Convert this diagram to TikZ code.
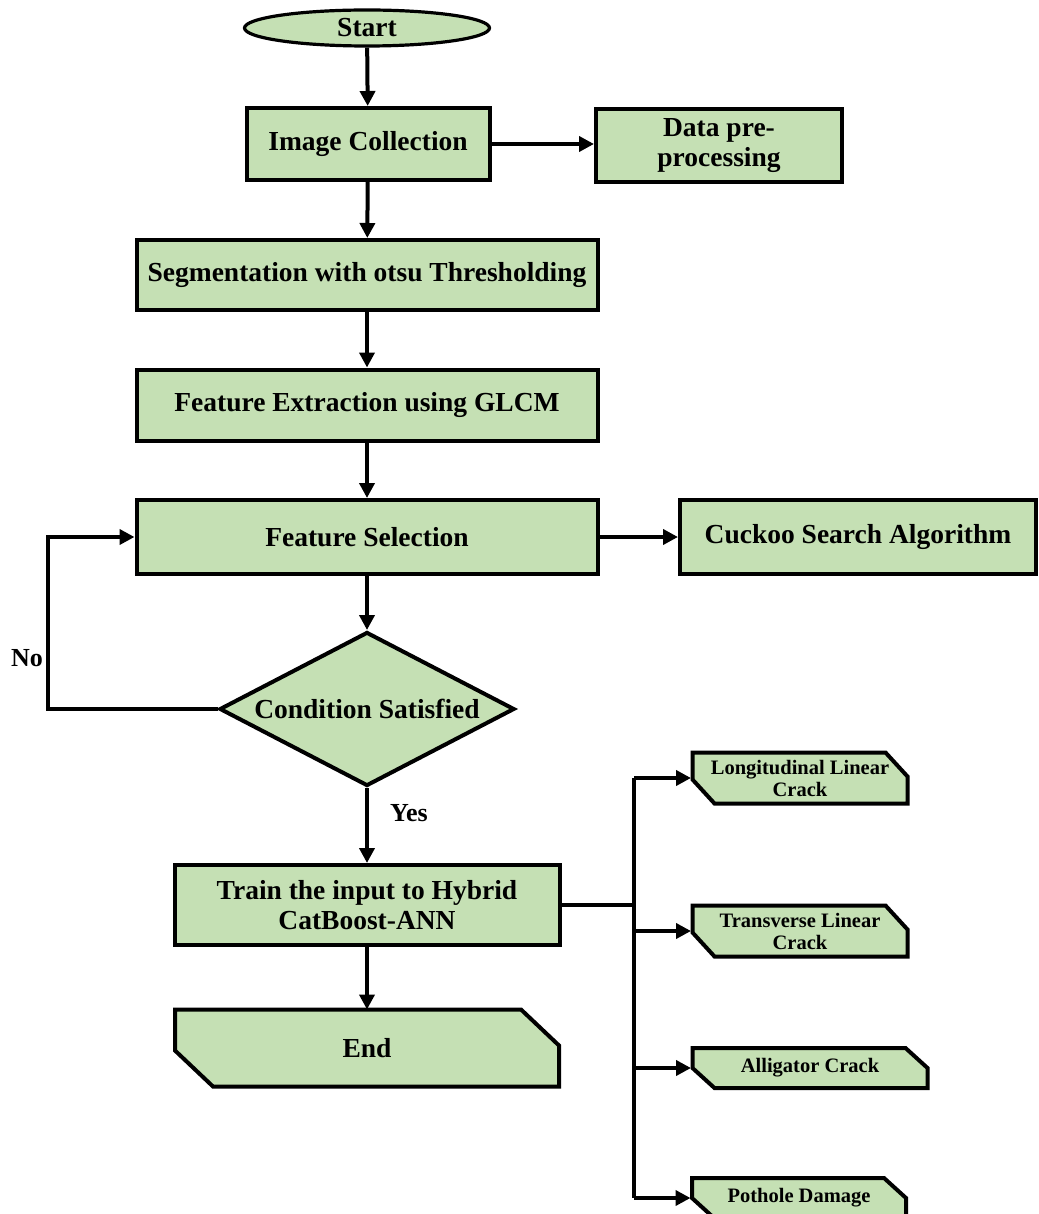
\documentclass[tikz,border=0pt]{standalone}
\usepackage{fontspec}
\setmainfont{Liberation Serif}
\usetikzlibrary{shapes.geometric,arrows.meta,calc}
\pgfdeclarelayer{bg}
\pgfsetlayers{bg,main}
\definecolor{boxgreen}{HTML}{C5E0B4}

% outline of a box with the top-right and bottom-left corners cut off
% #1 node name, #2 horizontal cut, #3 vertical cut
\newcommand\cutoutline[3]{%
  \begin{pgfonlayer}{bg}
    \draw[boxline] (#1.north west) -- ([xshift=-#2]#1.north east)
      -- ([yshift=-#3]#1.north east) -- (#1.south east)
      -- ([xshift=#2]#1.south west) -- ([yshift=#3]#1.south west) -- cycle;
  \end{pgfonlayer}}

\begin{document}
\begin{tikzpicture}[x=1pt,y=-1pt,
  bigfont/.style={font=\bfseries\fontsize{27.5}{30}\selectfont},
  smallfont/.style={font=\bfseries\fontsize{20.5}{22}\selectfont},
  boxline/.style={draw, line width=4pt, fill=boxgreen, line join=miter},
  proc/.style={draw, line width=4pt, fill=boxgreen, rectangle, inner sep=0pt,
    align=center, bigfont},
  startnode/.style={draw, line width=3.2pt, fill=boxgreen, ellipse, inner sep=0pt,
    bigfont},
  decide/.style={draw, line width=4pt, fill=boxgreen, diamond, inner sep=0pt,
    shape aspect=1.9, bigfont},
  cutnode/.style={rectangle, inner sep=0pt, outer sep=0pt, align=center},
  line/.style={line width=4pt},
  arr/.style={line width=4pt, -{Triangle[length=15pt,width=15pt]}},
  lbl/.style={font=\bfseries\fontsize{26}{28}\selectfont}
]
\useasboundingbox (0,0) rectangle (1038,1214);

% main flow
\node[startnode, minimum width=245pt, minimum height=36pt] (start) at (367,28) {Start};
\node[proc, minimum width=243pt, minimum height=72pt] (img) at (368,144) {Image Collection};
\node[proc, minimum width=246pt, minimum height=73pt] (pre) at (719,146) {Data pre-\\processing};
\node[proc, minimum width=461pt, minimum height=70pt] (seg) at (367,275) {Segmentation with otsu Thresholding};
\node[proc, minimum width=461pt, minimum height=71pt] (fext) at (367,405) {Feature Extraction using GLCM};
\node[proc, minimum width=461pt, minimum height=74pt] (fsel) at (367,537) {Feature Selection};
\node[proc, minimum width=356pt, minimum height=74pt] (cuckoo) at (858,537) {Cuckoo Search Algorithm};
\node[decide, minimum width=295pt, minimum height=154pt] (cond) at (367,709) {Condition Satisfied};
\node[proc, minimum width=385pt, minimum height=80pt] (train) at (367,905) {Train the input to Hybrid\\CatBoost-ANN};

\node[cutnode, bigfont, minimum width=384pt, minimum height=77pt] (end) at (367,1048) {End};
\cutoutline{end}{38pt}{36pt}

% damage classes
\node[cutnode, smallfont, minimum width=215pt, minimum height=51pt] (lon) at (800,778) {Longitudinal Linear\\Crack};
\cutoutline{lon}{22pt}{24pt}
\node[cutnode, smallfont, minimum width=215pt, minimum height=51pt] (trans) at (800,931) {Transverse Linear\\Crack};
\cutoutline{trans}{22pt}{24pt}
\node[cutnode, smallfont, minimum width=235pt, minimum height=40pt] (alli) at (810,1068) {Alligator Crack};
\cutoutline{alli}{22pt}{20pt}
\node[cutnode, smallfont, minimum width=214pt, minimum height=40pt] (pot) at (799,1198) {Pothole Damage};
\cutoutline{pot}{22pt}{20pt}

% connectors
\draw[arr] (start) -- (img);
\draw[arr] (img) -- (img -| pre.west);
\draw[arr] (img) -- (seg);
\draw[arr] (seg) -- (fext);
\draw[arr] (fext) -- (fsel);
\draw[arr] (fsel) -- (cuckoo);
\draw[arr] (fsel) -- (cond);

\coordinate (loop) at (48,600);
\draw[arr] (cond.west) -- (cond.west -| loop) |- (fsel.west);
\node[lbl] (no) at (27,658) {No};

\draw[arr] (cond) -- (train);
\node[lbl] (yes) at (409,813) {Yes};
\draw[arr] (train) -- (end);

\coordinate (bus) at (634,900);
\draw[line] (train.east) -- (train.east -| bus);
\draw[line] (lon.west -| bus) -- (pot.west -| bus);
\foreach \n in {lon,trans,alli,pot}
  \draw[arr, shorten >=1.5pt] (\n.west -| bus) -- (\n.west);
\end{tikzpicture}
\end{document}
